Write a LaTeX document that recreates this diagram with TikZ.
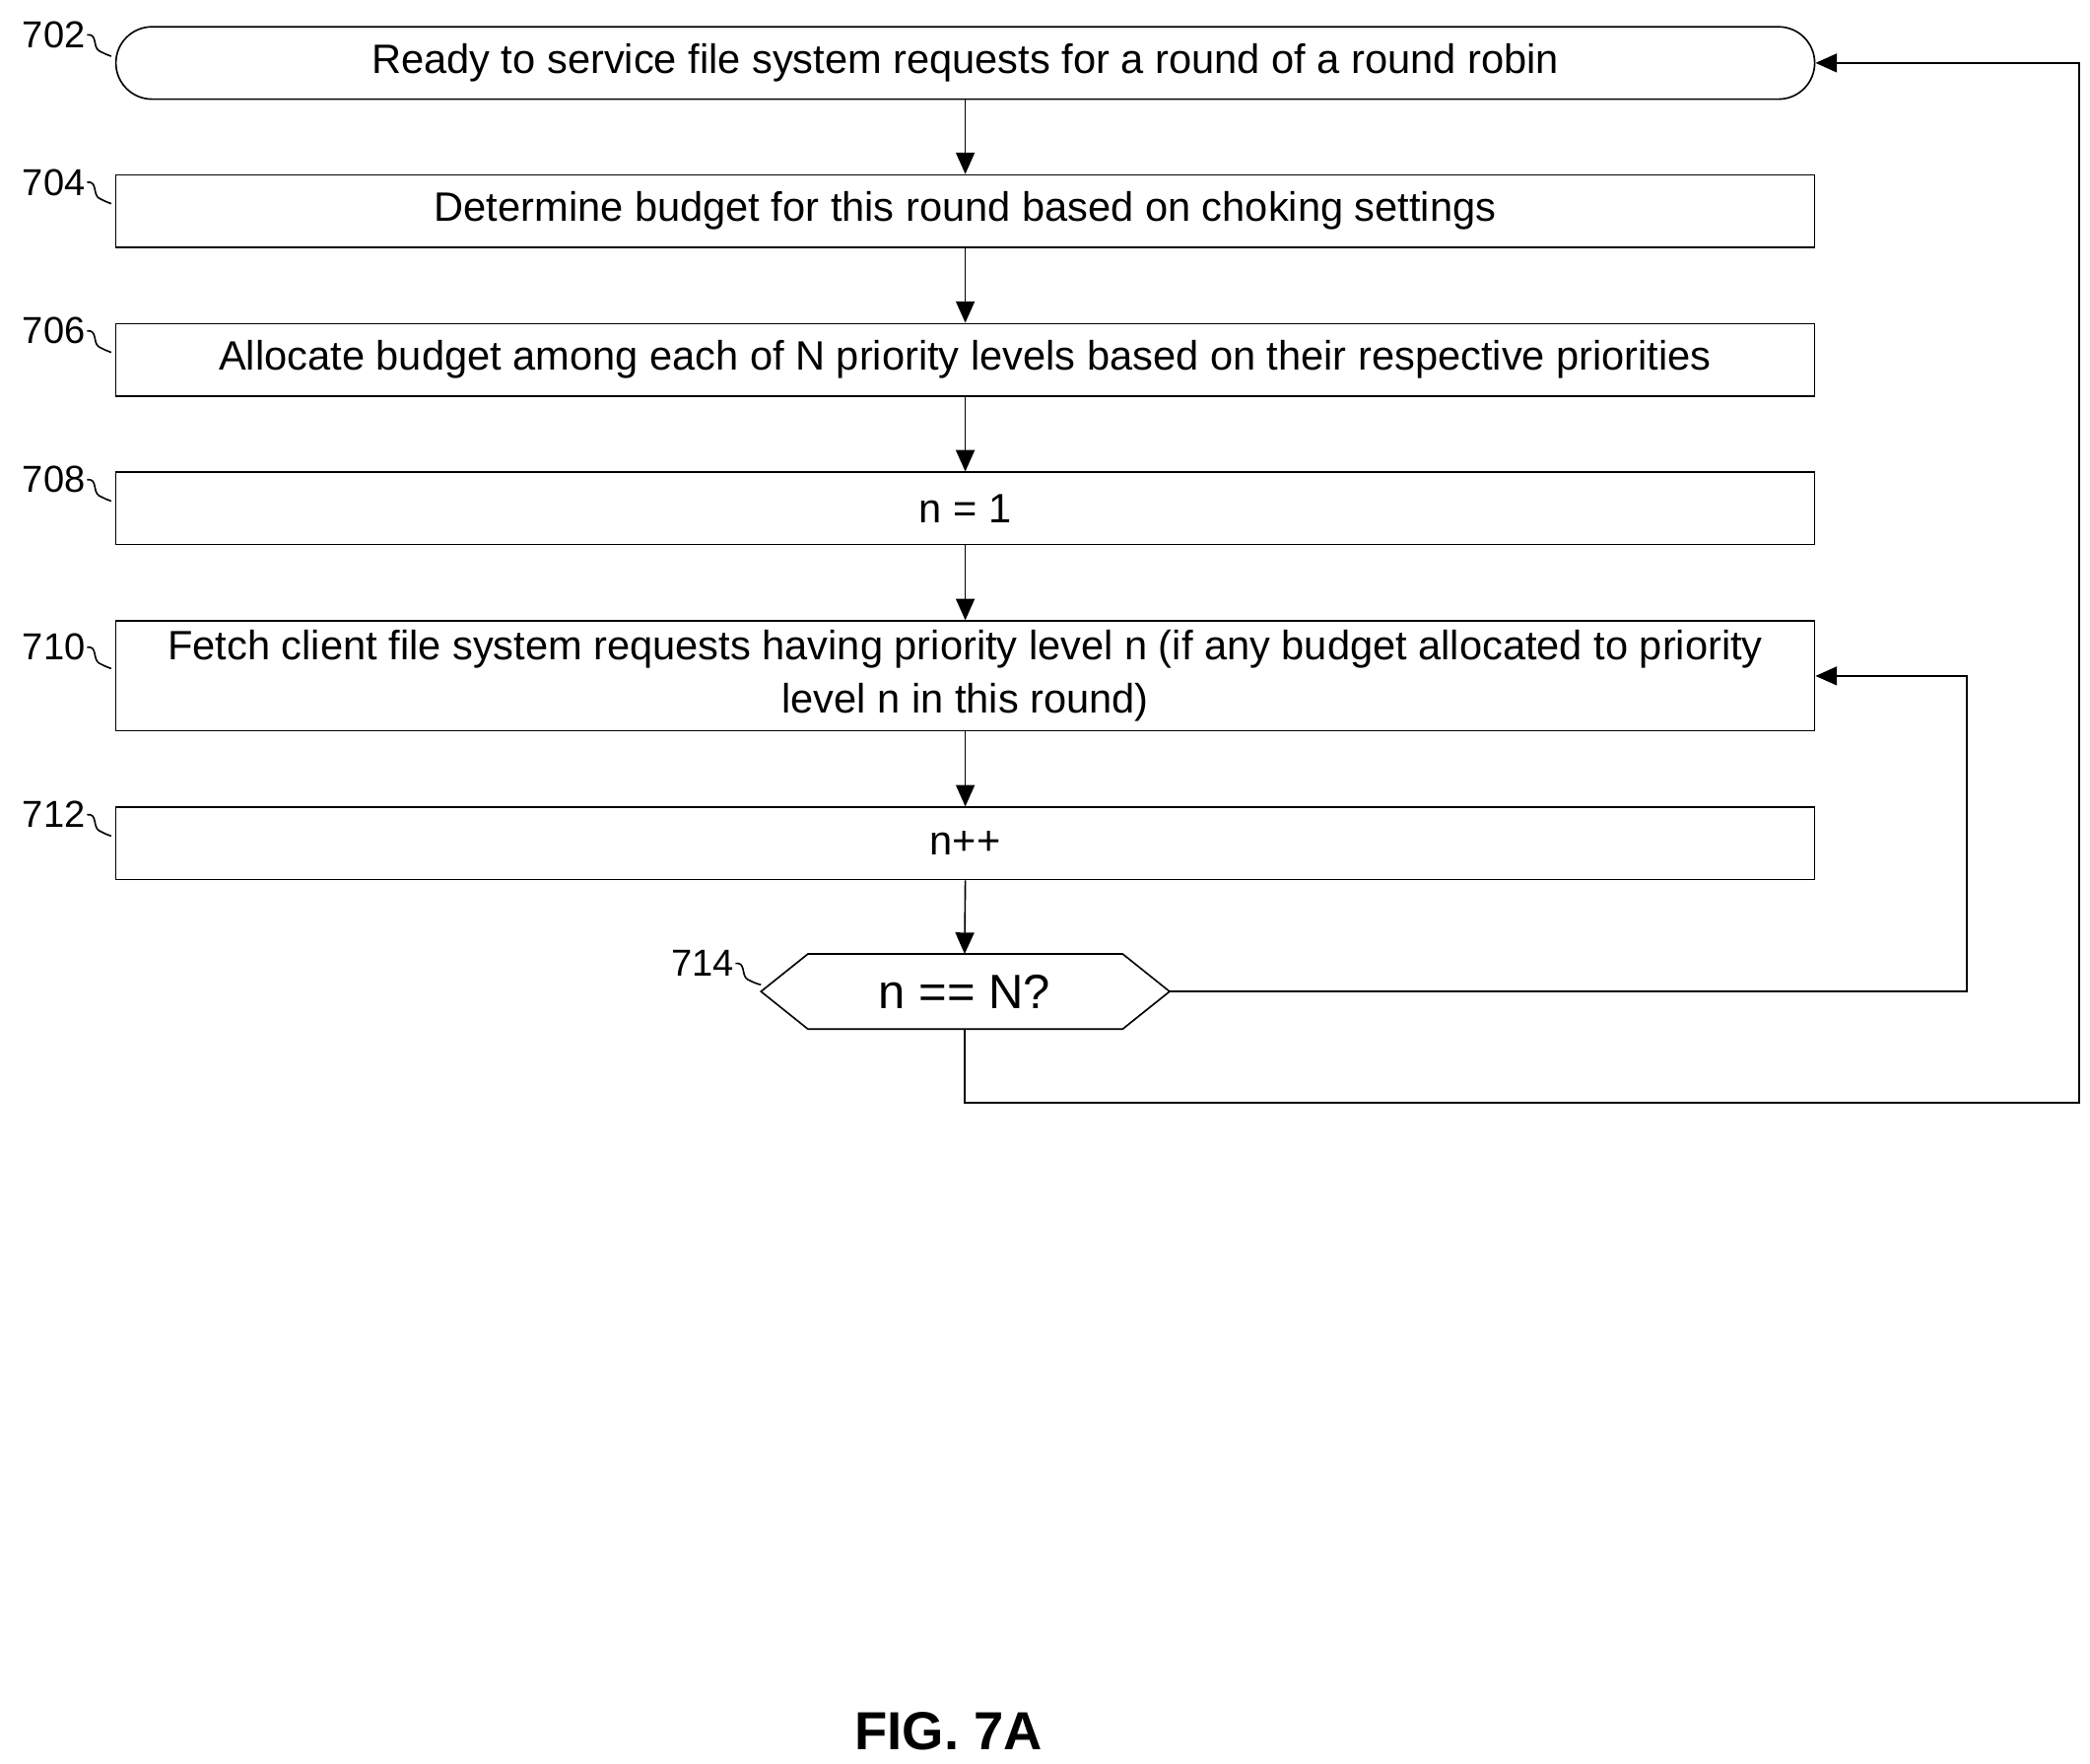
\documentclass[tikz,border=0pt]{standalone}
\usepackage{fontspec}
\setmainfont{Liberation Sans}
\usetikzlibrary{arrows.meta}
\begin{document}
\begin{tikzpicture}[x=0.5pt,y=-0.5pt,
 box/.style={draw,line width=0.6pt,minimum width=634pt,inner sep=0pt,align=center,font=\fontsize{15.3}{20}\selectfont},
 lbl/.style={font=\fontsize{14}{16}\selectfont,anchor=east,inner sep=1pt},
 ln/.style={line width=0.6pt},
 arr/.style={ln,-{Triangle[length=8pt,width=7pt]}}]
\useasboundingbox (0,0) rectangle (1560,1316);
\node[box,rounded corners=13.5pt,minimum height=27pt] (b702) at (720.5,47) {Ready to service file system requests for a round of a round robin};
\node[box,minimum height=27pt] (b704) at (720.5,157.5) {Determine budget for this round based on choking settings};
\node[box,minimum height=27pt] (b706) at (720.5,268.5) {Allocate budget among each of N priority levels based on their respective priorities};
\node[box,minimum height=27pt] (b708) at (720.5,379.5) {n = 1};
\node[box,minimum height=41pt] (b710) at (720.5,504.5) {Fetch client file system requests having priority level n (if any budget allocated to priority\\level n in this round)};
\node[box,minimum height=27pt] (b712) at (720.5,629.5) {n++};
\coordinate (h) at (720,740);
\draw[ln] (568,740) -- (603,712) -- (838,712) -- (873,740) -- (838,768) -- (603,768) -- cycle;
\node[font=\fontsize{18}{20}\selectfont] (b714) at (720,740) {n == N?};
\coordinate (hr) at (873,740);
\coordinate (hb) at (720,768);
\coordinate (ht) at (720,712);
\foreach \a/\b in {b702/b704,b704/b706,b706/b708,b708/b710,b710/b712} \draw[arr] (\a.south) -- (\b.north);
\draw[arr] (b712.south) -- (ht);
\coordinate (c1) at (1468,740);
\draw[arr] (hr) -- (c1) |- (b710.east);
\coordinate (c2) at (720,823);
\coordinate (c3) at (1552,823);
\draw[arr] (hb) -- (c2) -- (c3) |- (b702.east);
% labels
\foreach \n/\x/\y/\tx in {702/83/47/64,704/83/157/64,706/83/268/64,708/83/379/64,710/83/504/64,712/83/629/64,714/568/740/548} {
 \node[lbl] (l\n) at (\tx+2,\y-21) {\n};
 \draw[ln] (\tx+1,\y-21) .. controls (\tx+9,\y-22) and (\tx+5,\y-12) .. (\tx+10,\y-9) .. controls (\tx+14,\y-7) and (\tx+16,\y-6) .. (\x,\y-5);
}
\node[font=\bfseries\fontsize{20}{24}\selectfont] (fig) at (708,1292) {FIG. 7A};
\end{tikzpicture}
\end{document}
